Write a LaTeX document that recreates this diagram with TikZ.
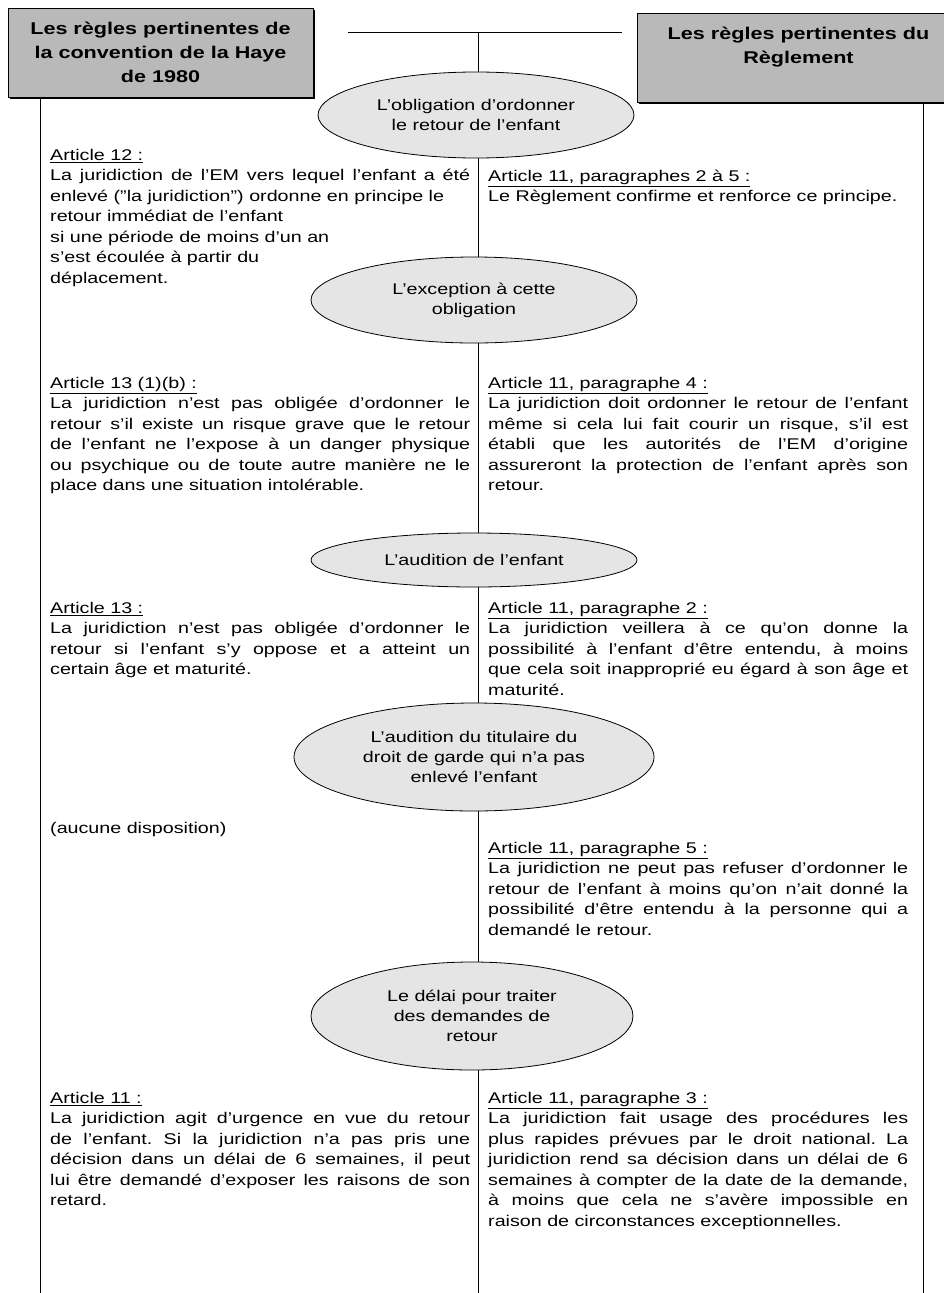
\documentclass[tikz,border=0pt]{standalone}
\usepackage{fontspec}
\setmainfont{Liberation Sans}[FakeStretch=1.27]
\usetikzlibrary{shapes.geometric,shadows}
\frenchspacing

\begin{document}
\begin{tikzpicture}[x=1pt,y=-1pt,
		theme/.style={ellipse,draw=black,line width=0.8pt,fill=gray!20,inner sep=0pt,align=center,
			font=\fontsize{15.5}{20}\selectfont},
		source/.style={rectangle,draw=black,line width=0.8pt,fill=gray!55,inner sep=0pt,align=center,
			font=\fontsize{17}{24}\selectfont\bfseries,
			drop shadow={shadow xshift=2pt,shadow yshift=-2pt,fill=black,opacity=1}},
		sourcetext/.style={inner sep=0pt,align=center,font=\fontsize{17}{24}\selectfont\bfseries},
		article/.style={anchor=north west,inner sep=0pt,text width=420pt,align=justify,
			font=\fontsize{15.5}{20.5}\selectfont\frenchspacing},
		rule/.style={line width=0.8pt}]

		\fill[white,use as bounding box] (0,0) rectangle (943,1293);

		% the two sources
		\node[source,minimum width=305pt,minimum height=89pt] (hague) at (160.5,52.5)
			{Les règles pertinentes de\\la convention de la Haye\\de 1980};
		\node[source,minimum width=323pt,minimum height=89pt] (regl) at (798.5,57.5) {};
		\node[sourcetext] (reglt) at (798.5,47) {Les règles pertinentes du\\Règlement};

		% the themes
		\node[theme,minimum width=316pt,minimum height=86pt] (obl) at (476,115)
			{L'obligation d'ordonner\\le retour de l'enfant};
		\node[theme,minimum width=326pt,minimum height=86pt] (exc) at (474,300)
			{L'exception à cette\\obligation};
		\node[theme,minimum width=326pt,minimum height=54pt] (aud) at (474,560)
			{L'audition de l'enfant};
		\node[theme,minimum width=360pt,minimum height=108pt] (tit) at (474,757)
			{L'audition du titulaire du\\droit de garde qui n'a pas\\enlevé l'enfant};
		\node[theme,minimum width=322pt,minimum height=108pt] (del) at (472,1016)
			{Le délai pour traiter\\des demandes de\\retour};

		% connectors
		\coordinate (hl) at (348,32);
		\coordinate (hr) at (622,32);
		\coordinate (hm) at (478,32);
		\coordinate (lb) at (40,1293);
		\coordinate (rb) at (923,1293);
		\coordinate (mb) at (478,1293);
		\draw[rule] (hl) -- (hr);
		\draw[rule] (hm) -- (hm |- obl.north);
		\draw[rule] (hm |- obl.south) -- (hm |- exc.north);
		\draw[rule] (hm |- exc.south) -- (hm |- aud.north);
		\draw[rule] (hm |- aud.south) -- (hm |- tit.north);
		\draw[rule] (hm |- tit.south) -- (hm |- del.north);
		\draw[rule] (hm |- del.south) -- (mb);
		\draw[rule] (hague.south -| lb) -- (lb);
		\draw[rule] (regl.south -| rb) -- (rb);

		% convention de la Haye
		\node[article] (a12) at (50,149)
			{\underline{Article 12 :}\newline
			La juridiction de l'EM vers lequel l'enfant a été\linebreak
			enlevé ("la juridiction") ordonne en principe le\newline
			retour immédiat de l'enfant\newline
			si une période de moins d'un an\newline
			s'est écoulée à partir du\newline
			déplacement.};
		\node[article] (a13b) at (50,377)
			{\underline{Article 13 (1)(b) :}\newline
			La juridiction n'est pas obligée d'ordonner le\linebreak
			retour s'il existe un risque grave que le retour\linebreak
			de l'enfant ne l'expose à un danger physique\linebreak
			ou psychique ou de toute autre manière ne le\linebreak
			place dans une situation intolérable.};
		\node[article] (a13) at (50,602)
			{\underline{Article 13 :}\newline
			La juridiction n'est pas obligée d'ordonner le\linebreak
			retour si l'enfant s'y oppose et a atteint un\linebreak
			certain âge et maturité.};
		\node[article] (none) at (50,822)
			{(aucune disposition)};
		\node[article] (a11) at (50,1092)
			{\underline{Article 11 :}\newline
			La juridiction agit d'urgence en vue du retour\linebreak
			de l'enfant. Si la juridiction n'a pas pris une\linebreak
			décision dans un délai de 6 semaines, il peut\linebreak
			lui être demandé d'exposer les raisons de son\linebreak
			retard.};

		% Reglement
		\node[article] (r25) at (488,169.5)
			{\underline{Article 11, paragraphes 2 à 5 :}\newline
			Le Règlement confirme et renforce ce principe.};
		\node[article] (r4) at (488,377)
			{\underline{Article 11, paragraphe 4 :}\newline
			La juridiction doit ordonner le retour de l'enfant\linebreak
			même si cela lui fait courir un risque, s'il est\linebreak
			établi que les autorités de l'EM d'origine\linebreak
			assureront la protection de l'enfant après son\linebreak
			retour.};
		\node[article] (r2) at (488,602)
			{\underline{Article 11, paragraphe 2 :}\newline
			La juridiction veillera à ce qu'on donne la\linebreak
			possibilité à l'enfant d'être entendu, à moins\linebreak
			que cela soit inapproprié eu égard à son âge et\linebreak
			maturité.};
		\node[article] (r5) at (488,842)
			{\underline{Article 11, paragraphe 5 :}\newline
			La juridiction ne peut pas refuser d'ordonner le\linebreak
			retour de l'enfant à moins qu'on n'ait donné la\linebreak
			possibilité d'être entendu à la personne qui a\linebreak
			demandé le retour.};
		\node[article] (r3) at (488,1092)
			{\underline{Article 11, paragraphe 3 :}\newline
			La juridiction fait usage des procédures les\linebreak
			plus rapides prévues par le droit national. La\linebreak
			juridiction rend sa décision dans un délai de 6\linebreak
			semaines à compter de la date de la demande,\linebreak
			à moins que cela ne s'avère impossible en\linebreak
			raison de circonstances exceptionnelles.};

\end{tikzpicture}
\end{document}
